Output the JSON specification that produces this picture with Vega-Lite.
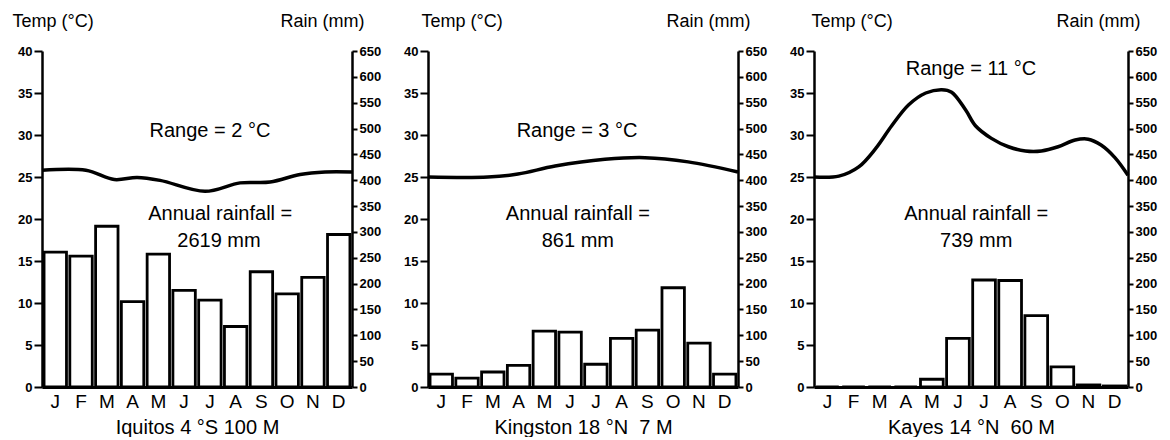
{
  "$schema": "https://vega.github.io/schema/vega-lite/v6.json",
  "background": "white",
  "padding": {"left": 12, "top": 12, "right": 5, "bottom": 0},
  "config": {
    "font": "Liberation Sans",
    "view": {"stroke": null},
    "concat": {"spacing": 76},
    "axis": {"grid": false, "domainColor": "black", "tickColor": "black", "labelColor": "black", "titleColor": "black", "domainWidth": 2.5, "tickWidth": 2, "labelFontSize": 13, "labelFontWeight": "bold", "titleFontSize": 18, "titleFontWeight": "normal"},
    "axisX": {"labelFontSize": 19, "labelFontWeight": "normal", "ticks": false, "titleFontSize": 20, "labelPadding": 5, "titlePadding": 6, "labelAngle": 0, "domainWidth": 3}
  },
  "bounds": "flush",
  "datasets": {
    "rain": [
      {"site": "Iquitos", "m": 1, "rain": 261}, {"site": "Iquitos", "m": 2, "rain": 253}, {"site": "Iquitos", "m": 3, "rain": 311}, {"site": "Iquitos", "m": 4, "rain": 165}, {"site": "Iquitos", "m": 5, "rain": 257}, {"site": "Iquitos", "m": 6, "rain": 187}, {"site": "Iquitos", "m": 7, "rain": 168}, {"site": "Iquitos", "m": 8, "rain": 117}, {"site": "Iquitos", "m": 9, "rain": 223}, {"site": "Iquitos", "m": 10, "rain": 180}, {"site": "Iquitos", "m": 11, "rain": 212}, {"site": "Iquitos", "m": 12, "rain": 295},
      {"site": "Kingston", "m": 1, "rain": 25}, {"site": "Kingston", "m": 2, "rain": 17}, {"site": "Kingston", "m": 3, "rain": 29}, {"site": "Kingston", "m": 4, "rain": 42}, {"site": "Kingston", "m": 5, "rain": 108}, {"site": "Kingston", "m": 6, "rain": 106}, {"site": "Kingston", "m": 7, "rain": 44}, {"site": "Kingston", "m": 8, "rain": 94}, {"site": "Kingston", "m": 9, "rain": 110}, {"site": "Kingston", "m": 10, "rain": 192}, {"site": "Kingston", "m": 11, "rain": 85}, {"site": "Kingston", "m": 12, "rain": 25},
      {"site": "Kayes", "m": 1, "rain": 0}, {"site": "Kayes", "m": 2, "rain": 0}, {"site": "Kayes", "m": 3, "rain": 0}, {"site": "Kayes", "m": 4, "rain": 0}, {"site": "Kayes", "m": 5, "rain": 15}, {"site": "Kayes", "m": 6, "rain": 94}, {"site": "Kayes", "m": 7, "rain": 207}, {"site": "Kayes", "m": 8, "rain": 206}, {"site": "Kayes", "m": 9, "rain": 138}, {"site": "Kayes", "m": 10, "rain": 39}, {"site": "Kayes", "m": 11, "rain": 4}, {"site": "Kayes", "m": 12, "rain": 2}
    ],
    "temp": [
      {"site": "Iquitos", "t": 0, "temp": 25.8}, {"site": "Iquitos", "t": 1.7, "temp": 25.8}, {"site": "Iquitos", "t": 2.8, "temp": 24.7}, {"site": "Iquitos", "t": 3.68, "temp": 24.95}, {"site": "Iquitos", "t": 4.57, "temp": 24.6}, {"site": "Iquitos", "t": 6.31, "temp": 23.3}, {"site": "Iquitos", "t": 7.67, "temp": 24.3}, {"site": "Iquitos", "t": 8.83, "temp": 24.4}, {"site": "Iquitos", "t": 9.99, "temp": 25.3}, {"site": "Iquitos", "t": 10.96, "temp": 25.6}, {"site": "Iquitos", "t": 12, "temp": 25.6},
      {"site": "Kingston", "t": 0, "temp": 25.0}, {"site": "Kingston", "t": 2.32, "temp": 25.0}, {"site": "Kingston", "t": 3.48, "temp": 25.35}, {"site": "Kingston", "t": 4.92, "temp": 26.3}, {"site": "Kingston", "t": 6.85, "temp": 27.1}, {"site": "Kingston", "t": 8.4, "temp": 27.3}, {"site": "Kingston", "t": 10.07, "temp": 26.8}, {"site": "Kingston", "t": 12, "temp": 25.6},
      {"site": "Kayes", "t": 0, "temp": 25.0}, {"site": "Kayes", "t": 0.95, "temp": 25.1}, {"site": "Kayes", "t": 1.71, "temp": 26.2}, {"site": "Kayes", "t": 2.36, "temp": 28.4}, {"site": "Kayes", "t": 2.97, "temp": 31.1}, {"site": "Kayes", "t": 3.62, "temp": 33.6}, {"site": "Kayes", "t": 4.27, "temp": 35.0}, {"site": "Kayes", "t": 4.88, "temp": 35.4}, {"site": "Kayes", "t": 5.26, "temp": 35.1}, {"site": "Kayes", "t": 5.79, "temp": 33.0}, {"site": "Kayes", "t": 6.17, "temp": 31.1}, {"site": "Kayes", "t": 6.78, "temp": 29.6}, {"site": "Kayes", "t": 7.43, "temp": 28.6}, {"site": "Kayes", "t": 8.08, "temp": 28.1}, {"site": "Kayes", "t": 8.69, "temp": 28.1}, {"site": "Kayes", "t": 9.33, "temp": 28.6}, {"site": "Kayes", "t": 9.98, "temp": 29.4}, {"site": "Kayes", "t": 10.48, "temp": 29.5}, {"site": "Kayes", "t": 10.97, "temp": 28.8}, {"site": "Kayes", "t": 11.5, "temp": 27.3}, {"site": "Kayes", "t": 12, "temp": 25.2}
    ],
    "notes": [
      {"site": "Iquitos", "t": 6.5, "temp": 30.5, "label": "Range = 2 °C"},
      {"site": "Iquitos", "t": 6.9, "temp": 20.6, "label": "Annual rainfall ="},
      {"site": "Iquitos", "t": 6.85, "temp": 17.4, "label": "2619 mm"},
      {"site": "Kingston", "t": 5.77, "temp": 30.5, "label": "Range = 3 °C"},
      {"site": "Kingston", "t": 5.8, "temp": 20.6, "label": "Annual rainfall ="},
      {"site": "Kingston", "t": 5.8, "temp": 17.4, "label": "861 mm"},
      {"site": "Kayes", "t": 6.0, "temp": 37.9, "label": "Range = 11 °C"},
      {"site": "Kayes", "t": 6.2, "temp": 20.6, "label": "Annual rainfall ="},
      {"site": "Kayes", "t": 6.2, "temp": 17.4, "label": "739 mm"}
    ]
  },
  "hconcat": [
    {
      "width": 310, "height": 336,
      "layer": [
        {
          "data": {"name": "rain"},
          "transform": [{"filter": "datum.site === 'Iquitos'"}],
          "mark": {"type": "bar", "fill": "white", "stroke": "black", "strokeWidth": 2.8},
          "encoding": {
            "x": {"field": "m", "type": "ordinal", "scale": {"paddingInner": 0.13, "paddingOuter": 0.08}, "axis": {"title": "Iquitos 4 °S 100 M", "labelExpr": "['J','F','M','A','M','J','J','A','S','O','N','D'][datum.value-1]"}},
            "y": {"field": "rain", "type": "quantitative", "scale": {"domain": [0, 650], "nice": false}, "axis": {"orient": "right", "values": [0,50,100,150,200,250,300,350,400,450,500,550,600,650], "title": "Rain (mm)", "titleAngle": 0, "titleAlign": "right", "titleBaseline": "middle", "titleX": 12, "titleY": -30, "tickSize": 5, "labelPadding": 2}}
          }
        },
        {
          "encoding": {
            "x": {"field": "t", "type": "quantitative", "scale": {"domain": [0, 12], "nice": false, "zero": false}, "axis": null},
            "y": {"field": "temp", "type": "quantitative", "scale": {"domain": [0, 40], "nice": false}, "axis": {"orient": "left", "values": [0,5,10,15,20,25,30,35,40], "title": "Temp (°C)", "titleAngle": 0, "titleAlign": "left", "titleBaseline": "middle", "titleX": -30, "titleY": -30, "tickSize": 8, "labelPadding": 2}}
          },
          "layer": [
            {"data": {"name": "temp"}, "transform": [{"filter": "datum.site === 'Iquitos'"}], "mark": {"type": "line", "interpolate": "catmull-rom", "stroke": "black", "strokeWidth": 3.5}},
            {"data": {"name": "notes"}, "transform": [{"filter": "datum.site === 'Iquitos'"}], "mark": {"type": "text", "fontSize": 20, "color": "black"}, "encoding": {"text": {"field": "label"}}}
          ]
        }
      ],
      "resolve": {"scale": {"x": "independent", "y": "independent"}}
    },
    {
      "width": 310, "height": 336,
      "layer": [
        {
          "data": {"name": "rain"},
          "transform": [{"filter": "datum.site === 'Kingston'"}],
          "mark": {"type": "bar", "fill": "white", "stroke": "black", "strokeWidth": 2.8},
          "encoding": {
            "x": {"field": "m", "type": "ordinal", "scale": {"paddingInner": 0.13, "paddingOuter": 0.08}, "axis": {"title": "Kingston 18 °N\u00a0 7 M", "labelExpr": "['J','F','M','A','M','J','J','A','S','O','N','D'][datum.value-1]"}},
            "y": {"field": "rain", "type": "quantitative", "scale": {"domain": [0, 650], "nice": false}, "axis": {"orient": "right", "values": [0,50,100,150,200,250,300,350,400,450,500,550,600,650], "title": "Rain (mm)", "titleAngle": 0, "titleAlign": "right", "titleBaseline": "middle", "titleX": 12, "titleY": -30, "tickSize": 5, "labelPadding": 2}}
          }
        },
        {
          "encoding": {
            "x": {"field": "t", "type": "quantitative", "scale": {"domain": [0, 12], "nice": false, "zero": false}, "axis": null},
            "y": {"field": "temp", "type": "quantitative", "scale": {"domain": [0, 40], "nice": false}, "axis": {"orient": "left", "values": [0,5,10,15,20,25,30,35,40], "title": "Temp (°C)", "titleAngle": 0, "titleAlign": "left", "titleBaseline": "middle", "titleX": -7, "titleY": -30, "tickSize": 8, "labelPadding": 2}}
          },
          "layer": [
            {"data": {"name": "temp"}, "transform": [{"filter": "datum.site === 'Kingston'"}], "mark": {"type": "line", "interpolate": "catmull-rom", "stroke": "black", "strokeWidth": 3.5}},
            {"data": {"name": "notes"}, "transform": [{"filter": "datum.site === 'Kingston'"}], "mark": {"type": "text", "fontSize": 20, "color": "black"}, "encoding": {"text": {"field": "label"}}}
          ]
        }
      ],
      "resolve": {"scale": {"x": "independent", "y": "independent"}}
    },
    {
      "width": 314, "height": 336,
      "layer": [
        {
          "data": {"name": "rain"},
          "transform": [{"filter": "datum.site === 'Kayes'"}],
          "mark": {"type": "bar", "fill": "white", "stroke": "black", "strokeWidth": 2.8},
          "encoding": {
            "x": {"field": "m", "type": "ordinal", "scale": {"paddingInner": 0.13, "paddingOuter": 0.08}, "axis": {"title": "Kayes 14 °N\u00a0 60 M", "labelExpr": "['J','F','M','A','M','J','J','A','S','O','N','D'][datum.value-1]"}},
            "y": {"field": "rain", "type": "quantitative", "scale": {"domain": [0, 650], "nice": false}, "axis": {"orient": "right", "values": [0,50,100,150,200,250,300,350,400,450,500,550,600,650], "title": "Rain (mm)", "titleAngle": 0, "titleAlign": "right", "titleBaseline": "middle", "titleX": 12, "titleY": -30, "tickSize": 5, "labelPadding": 2}}
          }
        },
        {
          "encoding": {
            "x": {"field": "t", "type": "quantitative", "scale": {"domain": [0, 12], "nice": false, "zero": false}, "axis": null},
            "y": {"field": "temp", "type": "quantitative", "scale": {"domain": [0, 40], "nice": false}, "axis": {"orient": "left", "values": [0,5,10,15,20,25,30,35,40], "title": "Temp (°C)", "titleAngle": 0, "titleAlign": "left", "titleBaseline": "middle", "titleX": -3, "titleY": -30, "tickSize": 8, "labelPadding": 2}}
          },
          "layer": [
            {"data": {"name": "temp"}, "transform": [{"filter": "datum.site === 'Kayes'"}], "mark": {"type": "line", "interpolate": "catmull-rom", "stroke": "black", "strokeWidth": 3.5}},
            {"data": {"name": "notes"}, "transform": [{"filter": "datum.site === 'Kayes'"}], "mark": {"type": "text", "fontSize": 20, "color": "black"}, "encoding": {"text": {"field": "label"}}}
          ]
        }
      ],
      "resolve": {"scale": {"x": "independent", "y": "independent"}}
    }
  ]
}
